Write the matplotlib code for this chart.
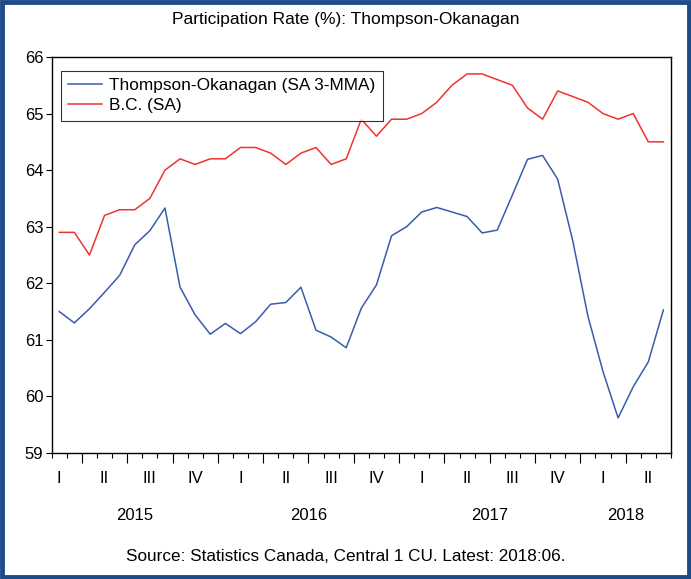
import numpy as np
import matplotlib.pyplot as plt
from matplotlib.patches import Rectangle

plt.rcParams['font.family'] = ['Liberation Sans', 'DejaVu Sans']

# Monthly data, 2015:02 .. 2018:06
start_year, start_month = 2015, 2
thompson = [61.50, 61.30, 61.55, 61.84, 62.14, 62.68, 62.93, 63.33, 61.93, 61.44,
            61.10, 61.29, 61.11, 61.32, 61.63, 61.66, 61.93, 61.17, 61.05, 60.86,
            61.56, 61.97, 62.84, 63.00, 63.26, 63.34, 63.26, 63.18, 62.89, 62.94,
            63.56, 64.19, 64.26, 63.84, 62.75, 61.42, 60.44, 59.62, 60.17, 60.61,
            61.53]
bc = [62.9, 62.9, 62.5, 63.2, 63.3, 63.3, 63.5, 64.0, 64.2, 64.1,
      64.2, 64.2, 64.4, 64.4, 64.3, 64.1, 64.3, 64.4, 64.1, 64.2,
      64.9, 64.6, 64.9, 64.9, 65.0, 65.2, 65.5, 65.7, 65.7, 65.6,
      65.5, 65.1, 64.9, 65.4, 65.3, 65.2, 65.0, 64.9, 65.0, 64.5,
      64.5]
quarter_names = ['I', 'II', 'III', 'IV']
y_ticks = [59, 60, 61, 62, 63, 64, 65, 66]

n = len(bc)
x = np.arange(n)
months = [(start_year + (start_month - 1 + i) // 12, (start_month - 1 + i) % 12 + 1) for i in range(n)]

fig = plt.figure(figsize=(6.91, 5.79), dpi=100)
ax = fig.add_axes([0.0748, 0.2176, 0.8962, 0.684])

ax.plot(x, thompson, color='#3A5BAD', lw=1.1, label='Thompson-Okanagan (SA 3-MMA)')
ax.plot(x, bc, color='#F03232', lw=1.1, label='B.C. (SA)')

ax.set_xlim(-0.5, n - 0.5)
ax.set_ylim(59, 66)
ax.set_yticks(y_ticks)
ax.tick_params(axis='y', direction='out', length=4, width=0.8, labelsize=12, pad=2)
for s in ax.spines.values():
    s.set_linewidth(1.0)

# month boundaries (minor), quarter boundaries (major)
bounds = np.arange(-0.5, n, 1.0)
qb = [i - 0.5 for i in range(1, n) if months[i][1] in (1, 4, 7, 10)]
ax.set_xticks(bounds, minor=True)
ax.set_xticks(qb)
ax.set_xticklabels([])
ax.tick_params(axis='x', which='minor', direction='out', length=3.5, width=0.8)
ax.tick_params(axis='x', which='major', direction='out', length=7, width=0.8)

# quarter labels at middle month of each quarter
for i, (yr, m) in enumerate(months):
    if m in (2, 5, 8, 11):
        ax.text(i, -0.045, quarter_names[(m - 1) // 3], transform=ax.get_xaxis_transform(),
                ha='center', va='top', fontsize=12)

# year labels centred on the months of each year
years = sorted(set(yr for yr, m in months))
for yr in years:
    idx = [i for i, (y2, m) in enumerate(months) if y2 == yr]
    ax.text((idx[0] + idx[-1]) / 2, -0.138, str(yr), transform=ax.get_xaxis_transform(),
            ha='center', va='top', fontsize=12)

leg = ax.legend(loc='upper left', bbox_to_anchor=(0.0145, 0.965), fontsize=12.4,
                frameon=True, fancybox=False, borderpad=0.42, handlelength=2.0,
                labelspacing=0.3, handletextpad=0.4, borderaxespad=0)
leg.get_frame().set_edgecolor('black')
leg.get_frame().set_linewidth(0.8)

fig.text(0.5, 0.967, 'Participation Rate (%): Thompson-Okanagan', ha='center', va='center', fontsize=12.5)
fig.text(0.5, 0.039, 'Source: Statistics Canada, Central 1 CU. Latest: 2018:06.', ha='center', va='center', fontsize=12.3)

# outer frame
fig.patches.append(Rectangle((0.0025, 0.003), 0.995, 0.994, transform=fig.transFigure,
                             fill=False, edgecolor='#1F4A8A', lw=3.5))

fig.savefig('out.png', dpi=100)
